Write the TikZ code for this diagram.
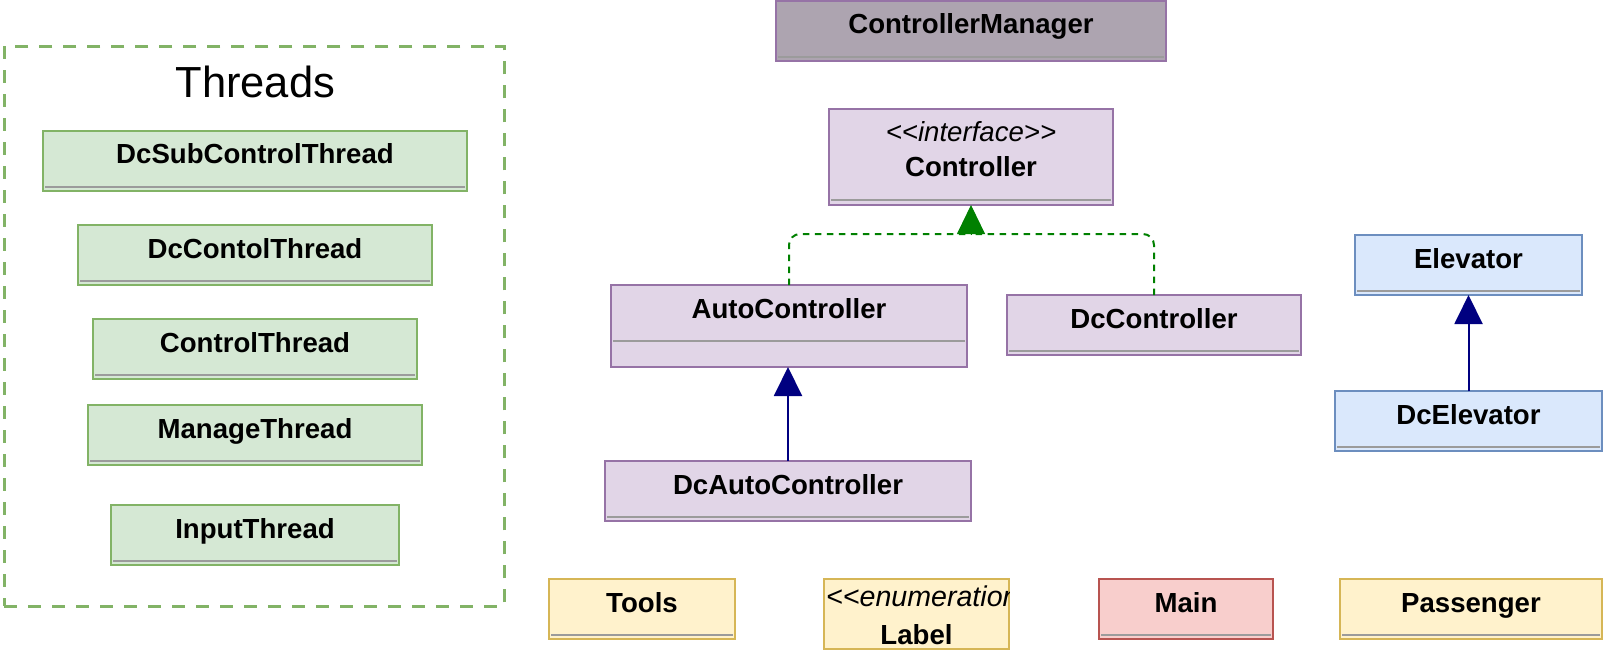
\documentclass[tikz,border=0pt]{standalone}
\usepackage{fontspec}
\setmainfont{Liberation Sans}
\usetikzlibrary{arrows.meta}

\definecolor{purfill}{HTML}{E1D5E7}
\definecolor{purline}{HTML}{9673A6}
\definecolor{mgrfill}{RGB}{173,164,176}
\definecolor{grnfill}{HTML}{D5E8D4}
\definecolor{grnline}{HTML}{82B366}
\definecolor{blufill}{HTML}{DAE8FC}
\definecolor{bluline}{HTML}{6C8EBF}
\definecolor{yelfill}{HTML}{FFF2CC}
\definecolor{yelline}{HTML}{D6B656}
\definecolor{redfill}{HTML}{F8CECC}
\definecolor{redline}{HTML}{B85450}
\definecolor{sepgray}{RGB}{155,155,155}
\definecolor{navyblue}{HTML}{000080}
\definecolor{implgreen}{HTML}{008000}

% guillemet-free double angle brackets
\newcommand\dlt{<\kern0pt<}
\newcommand\dgt{>\kern0pt>}

\tikzset{
  box/.style={rectangle, draw, line width=2.3pt, inner sep=0pt, outer sep=0pt},
  purplebox/.style={box, fill=purfill, draw=purline},
  mgrbox/.style={box, fill=mgrfill, draw=purline},
  greenbox/.style={box, fill=grnfill, draw=grnline},
  bluebox/.style={box, fill=blufill, draw=bluline},
  yellowbox/.style={box, fill=yelfill, draw=yelline},
  redbox/.style={box, fill=redfill, draw=redline},
  classname/.style={anchor=base, inner sep=0pt, font=\fontsize{27.6}{33}\selectfont\bfseries},
  stereo/.style={anchor=base, inner sep=0pt, font=\fontsize{27.6}{33}\selectfont\itshape},
  sepline/.style={draw=sepgray, line width=2pt},
  inherit/.style={draw=navyblue, fill=navyblue, line width=2pt,
    -{Triangle[length=29pt,width=28pt]}},
  realize/.style={draw=implgreen, line width=2pt, dash pattern=on 6.5pt off 5.5pt,
    rounded corners=11pt},
  realizetip/.style={draw=implgreen, fill=implgreen, line width=1pt,
    -{Triangle[length=29pt,width=28pt]}},
  container/.style={rectangle, draw=grnline, line width=2.6pt,
    dash pattern=on 13pt off 11pt, inner sep=0pt},
}

% #1 name, #2 x1, #3 y1, #4 x2, #5 y2, #6 style, #7 class name, #8 separator offset from bottom
\newcommand\classbox[8]{%
  \node[#6, minimum width={(#4-#2)*1pt}, minimum height={(#5-#3)*1pt},
        anchor=north west] (#1) at (#2,#3) {};
  \node[classname] (#1-name) at ([yshift=-33pt]#1.north) {#7};
  \draw[sepline] ([xshift=2pt,yshift=#8pt]#1.south west) -- ([xshift=-2pt,yshift=#8pt]#1.south east);
}

\begin{document}
\begin{tikzpicture}[x=1pt, y=-1pt]
\useasboundingbox (0,0) rectangle (1604,650);

% thread classes, grouped
\node[container, minimum width=500pt, minimum height=560pt, anchor=north west] (threads) at (3,45) {};
\node[anchor=base, inner sep=0pt, font=\fontsize{43.5}{52}\selectfont] (threads-title)
  at ([xshift=1pt,yshift=-53pt]threads.north) {Threads};

\classbox{sub}{43}{131}{467}{191}{greenbox}{DcSubControlThread}{4}
\classbox{dcct}{78}{225}{432}{285}{greenbox}{DcContolThread}{4}
\classbox{ct}{93}{319}{417}{379}{greenbox}{ControlThread}{4}
\classbox{mt}{88}{405}{422}{465}{greenbox}{ManageThread}{4}
\classbox{it}{111}{505}{399}{565}{greenbox}{InputThread}{4}

% controller hierarchy
\classbox{mgr}{776}{1}{1166}{61}{mgrbox}{ControllerManager}{4}

\node[purplebox, minimum width=284pt, minimum height=96pt, anchor=north west] (ctrl) at (829,109) {};
\node[stereo] (ctrl-stereo) at ([yshift=-33pt]ctrl.north) {\dlt interface\dgt};
\node[classname] (ctrl-name) at ([yshift=-67pt]ctrl.north) {Controller};
\draw[sepline] ([xshift=2pt,yshift=5pt]ctrl.south west) -- ([xshift=-2pt,yshift=5pt]ctrl.south east);

\classbox{auto}{611}{285}{967}{367}{purplebox}{AutoController}{26}
\classbox{dcctrl}{1007}{295}{1301}{355}{purplebox}{DcController}{4}
\classbox{dcauto}{605}{461}{971}{521}{purplebox}{DcAutoController}{4}

% elevators
\classbox{elev}{1355}{235}{1582}{295}{bluebox}{Elevator}{4}
\classbox{dcelev}{1335}{391}{1602}{451}{bluebox}{DcElevator}{4}

% misc classes
\classbox{tools}{549}{579}{735}{639}{yellowbox}{Tools}{4}
\classbox{main}{1099}{579}{1273}{639}{redbox}{Main}{4}
\classbox{pass}{1340}{579}{1602}{639}{yellowbox}{Passenger}{4}

\node[yellowbox, minimum width=185pt, minimum height=70pt, anchor=north west] (label) at (824,579) {};
\begin{scope}
  \clip (label.south west) rectangle (label.north east);
  \node[stereo, anchor=base west, font=\fontsize{28.6}{34}\selectfont\itshape] (label-stereo)
    at (826,606) {\dlt enumeration\dgt};
\end{scope}
\node[classname] (label-name) at ([yshift=-65pt]label.north) {Label};

% realization of the interface
\coordinate (join) at ([yshift=-29pt]ctrl.south);
\draw[realize] (auto.north) |- (join);
\draw[realize] (dcctrl.north) |- (join);
\draw[realizetip] (join) -- (ctrl.south);

% generalization
\draw[inherit] (dcauto.north) -- (dcauto.north |- auto.south);
\draw[inherit] (dcelev.north) -- (dcelev.north |- elev.south);
\end{tikzpicture}
\end{document}
